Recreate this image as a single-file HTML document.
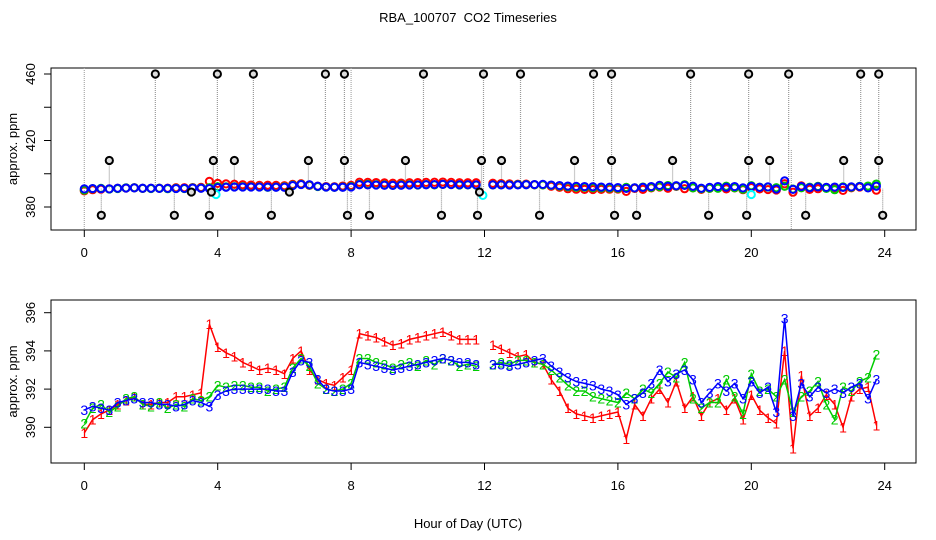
<!DOCTYPE html>
<html><head><meta charset="utf-8"><style>
html,body{margin:0;padding:0;background:#fff;}
svg{display:block;font-family:"Liberation Sans",Arial,sans-serif;}
</style></head><body>
<svg id="c" width="936" height="540" viewBox="0 0 936 540">
<text x="468" y="22" text-anchor="middle" font-size="13" xml:space="preserve">RBA_100707  CO2 Timeseries</text>
<text x="468" y="528" text-anchor="middle" font-size="13">Hour of Day (UTC)</text>
<g id="topPanel"></g>
<g id="botPanel"></g>
</svg>
<script>
const hours=[0,0.25,0.5,0.75,1,1.25,1.5,1.75,2,2.25,2.5,2.75,3,3.25,3.5,3.75,4,4.25,4.5,4.75,5,5.25,5.5,5.75,6,6.25,6.5,6.75,7,7.25,7.5,7.75,8,8.25,8.5,8.75,9,9.25,9.5,9.75,10,10.25,10.5,10.75,11,11.25,11.5,11.75,12.25,12.5,12.75,13,13.25,13.5,13.75,14,14.25,14.5,14.75,15,15.25,15.5,15.75,16,16.25,16.5,16.75,17,17.25,17.5,17.75,18,18.25,18.5,18.75,19,19.25,19.5,19.75,20,20.25,20.5,20.75,21,21.25,21.5,21.75,22,22.25,22.5,22.75,23,23.25,23.5,23.75];
const series3=[390.9,391.1,391.0,390.9,391.3,391.4,391.5,391.3,391.3,391.2,391.2,391.1,391.2,391.4,391.3,391.1,391.7,391.9,392.0,392.0,392.0,392.0,392.0,391.9,391.9,392.9,393.5,393.4,392.5,392.0,391.9,391.9,392.0,393.4,393.3,393.2,393.1,393.0,393.1,393.2,393.3,393.4,393.5,393.6,393.5,393.4,393.4,393.3,393.3,393.3,393.2,393.3,393.4,393.5,393.6,393.2,392.9,392.6,392.4,392.3,392.2,392.0,391.9,391.7,391.2,391.5,391.8,392.3,393.0,392.4,392.8,393.0,392.5,391.3,391.8,392.3,391.9,392.3,391.5,392.4,391.8,392.1,390.8,395.7,390.6,392.3,391.6,392.1,391.8,392.0,391.8,392.1,392.3,391.5,392.5];
const series2=[390.2,391.0,391.2,390.8,391.1,391.5,391.6,391.2,391.1,391.3,391.0,391.2,391.1,391.5,391.4,391.6,392.2,392.1,392.2,392.2,392.1,392.1,391.9,392.0,392.1,393.1,393.6,393.2,392.3,392.0,391.9,392.0,392.3,393.6,393.6,393.4,393.3,393.1,393.3,393.4,393.2,393.5,393.3,393.6,393.5,393.2,393.3,393.2,393.3,393.4,393.3,393.5,393.5,393.4,393.3,393.0,392.6,392.2,391.9,391.9,391.6,391.5,391.4,391.3,391.8,391.5,392.0,391.8,392.3,392.9,392.6,393.4,391.5,391.0,391.3,391.3,392.5,391.6,390.7,392.8,391.9,392.0,391.6,392.5,390.8,391.6,391.9,392.4,391.2,390.4,392.1,391.9,392.4,392.6,393.8];
const series1=[389.7,390.4,390.7,390.9,391.2,391.4,391.6,391.2,391.2,391.3,391.3,391.6,391.6,391.7,391.8,395.4,394.2,393.9,393.7,393.4,393.2,393.0,393.1,393.0,392.8,393.6,394.0,393.0,392.5,392.3,392.2,392.6,393.0,394.9,394.8,394.7,394.5,394.3,394.4,394.6,394.7,394.8,394.9,395.0,394.8,394.6,394.6,394.6,394.3,394.1,393.9,393.7,393.8,393.4,393.3,392.5,391.9,391.0,390.7,390.6,390.5,390.6,390.7,390.8,389.4,391.2,390.6,391.5,392.0,391.3,392.4,391.0,391.6,390.6,391.3,391.5,390.9,391.5,390.4,391.7,390.9,390.5,390.2,394.0,388.9,392.7,390.6,391.0,391.7,391.2,390.0,391.6,392.0,392.1,390.1,392.9];
const spikeHours=[2.13,3.99,5.07,7.23,7.80,10.17,11.97,13.08,15.27,15.81,18.18,19.92,21.12,23.28,23.82,0.75,3.87,4.5,6.72,7.8,9.63,11.91,12.51,14.7,15.81,17.64,19.92,20.55,22.77,23.82,0.51,2.7,3.75,5.61,7.89,8.55,10.71,11.79,13.65,15.9,16.56,18.72,19.86,21.63,23.94,3.21,3.81,6.15,11.85];
const spikeVals=[460,460,460,460,460,460,460,460,460,460,460,460,460,460,460,408,408,408,408,408,408,408,408,408,408,408,408,408,408,408,375,375,375,375,375,375,375,375,375,375,375,375,375,375,375,389,389,389,389];
const cyanHours=[3.95,11.95,20.0];
const cyanVals=[387.5,387,387.5];
const xTicks=[0,4,8,12,16,20,24];
const topTicks=[380,420,460];
const topMinor=[400,440];
const botTicks=[390,392,394,396];

const NS="http://www.w3.org/2000/svg";
function el(tag,attrs,parent){const e=document.createElementNS(NS,tag);for(const k in attrs)e.setAttribute(k,attrs[k]);parent.appendChild(e);return e;}
const xs=h=>84.3+h*33.35;
const yTop=v=>207-(v-380)*1.6625;
const yBot=v=>427.3-(v-390)*19.1;
const N=hours.length;

function frame(g,y0,y1,ticks,yf,minor,name){
  const r=el('rect',{x:51,y:y0,width:865,height:y1-y0,fill:'none',stroke:'#000','stroke-width':1},g);
  
  
  xTicks.forEach(t=>{
    const l=el('line',{x1:xs(t),x2:xs(t),y1:y1,y2:y1+7,stroke:'#000'},g);
    
    
    const tx=el('text',{x:xs(t),y:y1+27,'text-anchor':'middle','font-size':13},g);
    tx.textContent=t;
    
    
  });
  ticks.concat(minor).forEach(t=>{
    const l=el('line',{x1:44,x2:51,y1:yf(t),y2:yf(t),stroke:'#000'},g);
    
    
  });
  ticks.forEach(t=>{
    const tx=el('text',{x:0,y:0,'text-anchor':'middle','font-size':13,transform:`translate(35,${yf(t)}) rotate(-90)`},g);
    tx.textContent=t;
    
    
  });
  const at=el('text',{x:0,y:0,'text-anchor':'middle','font-size':13,transform:`translate(17,${(y0+y1)/2}) rotate(-90)`},g);
  at.textContent='approx. ppm';
  
  
}
const gTop=document.getElementById('topPanel'), gBot=document.getElementById('botPanel');
frame(gTop,68,230,topTicks,yTop,topMinor,'top');
frame(gBot,300,463,botTicks,yBot,[],'bottom');

spikeHours.forEach((h,i)=>{
  const l=el('line',{x1:xs(h),x2:xs(h),y1:yTop(spikeVals[i]),y2:yTop(391),stroke:'#999','stroke-width':1.2,'stroke-dasharray':'1,1'},gTop);
  
  
});
[[0,68,230],[8,68,230],[21.2,150,230]].forEach(a=>{
  const l=el('line',{x1:xs(a[0]),x2:xs(a[0]),y1:a[1],y2:a[2],stroke:'#aaa','stroke-width':1.2,'stroke-dasharray':'1,1'},gTop);
  
  
});
[[series1,'#f00'],[series2,'#0c0'],[series3,'#00f']].forEach(([s,c],k)=>{
  for(let i=0;i<N&&i<s.length;i++){
    const ci=el('circle',{cx:xs(hours[i]),cy:yTop(s[i]),r:3.6,fill:'none',stroke:c,'stroke-width':2},gTop);
    
    
  }
});
cyanHours.forEach((h,i)=>{
  const ci=el('circle',{cx:xs(h),cy:yTop(cyanVals[i]),r:3.6,fill:'none',stroke:'#0ff','stroke-width':2},gTop);
  
  
});
spikeHours.forEach((h,i)=>{
  const ci=el('circle',{cx:xs(h),cy:yTop(spikeVals[i]),r:3.6,fill:'#ddd',stroke:'#000','stroke-width':2},gTop);
  
  
});

[[series1,'#f00','1'],[series2,'#0c0','2'],[series3,'#00f','3']].forEach(([s,c,lab])=>{
  let d='';
  for(let i=0;i<N&&i<s.length;i++){
    const gap=i>0&&hours[i]-hours[i-1]>0.3;
    d+=(i===0||gap?'M':'L')+xs(hours[i]).toFixed(1)+','+yBot(s[i]).toFixed(1);
  }
  const p=el('path',{d:d,fill:'none',stroke:c,'stroke-width':1.5},gBot);
  
  
  for(let i=0;i<N&&i<s.length;i++){
    const t=el('text',{x:xs(hours[i]),y:yBot(s[i])+5,'text-anchor':'middle','font-size':14,fill:c},gBot);
    t.textContent=lab;
    
    
  }
});
</script>
</body></html>
